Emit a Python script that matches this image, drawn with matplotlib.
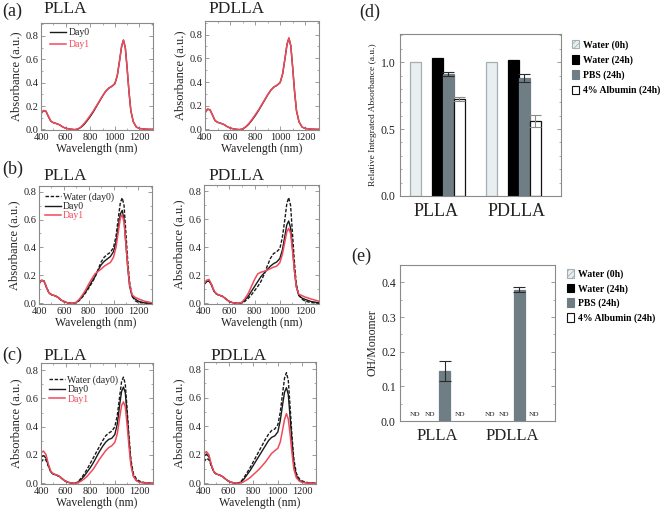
import numpy as np
import matplotlib
matplotlib.use('Agg')
import matplotlib.pyplot as plt
from matplotlib.patches import Patch
from matplotlib.ticker import MultipleLocator

plt.rcParams['font.family'] = ['Liberation Serif', 'DejaVu Serif']
plt.rcParams['hatch.linewidth'] = 0.6

# ---------------- data ----------------
wl = [400, 420, 440, 460, 480, 500, 525, 550, 575, 600, 625, 650, 675, 700, 725, 750, 775, 800,
      825, 850, 875, 900, 925, 950, 975, 1000, 1020, 1040, 1055, 1070, 1085, 1100, 1115, 1130,
      1150, 1175, 1200, 1250, 1310]

# (a) PLLA
a_plla_day0 = [0.135, 0.16, 0.155, 0.11, 0.07, 0.058, 0.05, 0.04, 0.022, 0.01, 0.005, 0.001, -0.002, 0.003, 0.018,
               0.042, 0.075, 0.11, 0.15, 0.195, 0.24, 0.285, 0.325, 0.352, 0.368, 0.39, 0.46, 0.6, 0.71, 0.762,
               0.7, 0.52, 0.32, 0.16, 0.065, 0.02, 0.008, 0.002, 0.0]
a_plla_day1 = [0.135, 0.162, 0.157, 0.112, 0.07, 0.058, 0.05, 0.04, 0.022, 0.01, 0.005, 0.001, -0.002, 0.004, 0.022,
               0.05, 0.083, 0.12, 0.158, 0.2, 0.244, 0.287, 0.326, 0.353, 0.369, 0.392, 0.462, 0.6, 0.71, 0.765,
               0.7, 0.52, 0.32, 0.16, 0.065, 0.02, 0.008, 0.002, 0.0]
# (a) PDLLA
a_pdlla_day0 = [0.14, 0.17, 0.165, 0.12, 0.075, 0.06, 0.052, 0.042, 0.025, 0.012, 0.005, 0.001, -0.002, 0.003, 0.02,
                0.045, 0.078, 0.115, 0.155, 0.2, 0.245, 0.29, 0.33, 0.358, 0.372, 0.395, 0.47, 0.61, 0.72, 0.77,
                0.705, 0.52, 0.32, 0.16, 0.065, 0.02, 0.008, 0.002, 0.0]
a_pdlla_day1 = [0.14, 0.172, 0.167, 0.121, 0.075, 0.06, 0.052, 0.042, 0.025, 0.012, 0.005, 0.001, -0.002, 0.004, 0.023,
                0.05, 0.084, 0.122, 0.16, 0.204, 0.248, 0.292, 0.331, 0.359, 0.373, 0.396, 0.47, 0.61, 0.72, 0.772,
                0.705, 0.52, 0.32, 0.16, 0.065, 0.02, 0.008, 0.002, 0.0]

# (b) PLLA
b_plla_water = [0.14, 0.165, 0.16, 0.115, 0.075, 0.062, 0.055, 0.045, 0.025, 0.012, 0.005, 0.001, 0.0, 0.005, 0.02,
                0.045, 0.075, 0.108, 0.145, 0.185, 0.24, 0.295, 0.33, 0.35, 0.365, 0.40, 0.48, 0.62, 0.72, 0.755,
                0.7, 0.5, 0.3, 0.15, 0.05, 0.018, 0.006, 0.002, 0.0]
b_plla_day0 = [0.14, 0.165, 0.16, 0.115, 0.075, 0.062, 0.055, 0.045, 0.025, 0.012, 0.005, 0.001, 0.0, 0.006, 0.025,
               0.05, 0.082, 0.118, 0.155, 0.19, 0.235, 0.275, 0.3, 0.318, 0.335, 0.37, 0.44, 0.56, 0.64, 0.665,
               0.6, 0.42, 0.25, 0.12, 0.05, 0.03, 0.015, 0.003, 0.0]
b_plla_day1 = [0.14, 0.165, 0.16, 0.115, 0.075, 0.062, 0.055, 0.045, 0.025, 0.012, 0.005, 0.001, 0.0, 0.008, 0.03,
               0.06, 0.095, 0.137, 0.175, 0.21, 0.228, 0.245, 0.265, 0.28, 0.292, 0.33, 0.40, 0.52, 0.61, 0.635,
               0.58, 0.42, 0.26, 0.13, 0.06, 0.042, 0.032, 0.015, 0.004]
# (b) PDLLA
b_pdlla_water = [0.135, 0.155, 0.16, 0.13, 0.085, 0.065, 0.057, 0.048, 0.03, 0.012, 0.005, 0.001, 0.0, 0.004, 0.015,
                 0.035, 0.06, 0.09, 0.12, 0.155, 0.205, 0.265, 0.32, 0.355, 0.368, 0.39, 0.47, 0.6, 0.71, 0.755,
                 0.7, 0.5, 0.3, 0.14, 0.06, 0.03, 0.015, 0.005, 0.0]
b_pdlla_day0 = [0.135, 0.155, 0.16, 0.13, 0.085, 0.065, 0.057, 0.048, 0.03, 0.012, 0.005, 0.001, 0.0, 0.006, 0.025,
                0.05, 0.085, 0.12, 0.155, 0.19, 0.215, 0.24, 0.265, 0.283, 0.295, 0.32, 0.38, 0.48, 0.56, 0.588,
                0.54, 0.40, 0.24, 0.12, 0.055, 0.038, 0.028, 0.012, 0.004]
b_pdlla_day1 = [0.14, 0.165, 0.17, 0.135, 0.088, 0.067, 0.058, 0.048, 0.03, 0.012, 0.005, 0.001, 0.0, 0.008, 0.035,
                0.07, 0.12, 0.17, 0.21, 0.222, 0.228, 0.236, 0.248, 0.258, 0.265, 0.29, 0.35, 0.44, 0.51, 0.535,
                0.5, 0.38, 0.24, 0.12, 0.065, 0.055, 0.045, 0.03, 0.015]

# (c) PLLA
c_plla_water = [0.15, 0.17, 0.165, 0.12, 0.08, 0.065, 0.058, 0.048, 0.03, 0.014, 0.006, 0.002, 0.0, 0.01, 0.035,
                0.065, 0.1, 0.14, 0.18, 0.22, 0.26, 0.3, 0.335, 0.355, 0.368, 0.40, 0.48, 0.62, 0.72, 0.75,
                0.7, 0.52, 0.33, 0.17, 0.07, 0.03, 0.015, 0.003, 0.0]
c_plla_day0 = [0.185, 0.195, 0.18, 0.125, 0.08, 0.065, 0.058, 0.048, 0.03, 0.014, 0.006, 0.002, 0.0, 0.007, 0.025,
               0.05, 0.08, 0.11, 0.145, 0.185, 0.225, 0.26, 0.29, 0.31, 0.318, 0.345, 0.42, 0.56, 0.65, 0.68,
               0.64, 0.48, 0.3, 0.15, 0.055, 0.02, 0.008, 0.002, 0.0]
c_plla_day1 = [0.215, 0.228, 0.205, 0.135, 0.085, 0.068, 0.06, 0.05, 0.03, 0.014, 0.006, 0.002, 0.0, 0.004, 0.015,
               0.03, 0.05, 0.075, 0.1, 0.135, 0.17, 0.2, 0.23, 0.252, 0.265, 0.29, 0.35, 0.47, 0.55, 0.575,
               0.54, 0.41, 0.26, 0.13, 0.05, 0.018, 0.007, 0.002, 0.0]
# (c) PDLLA
c_pdlla_water = [0.15, 0.175, 0.165, 0.12, 0.08, 0.065, 0.058, 0.048, 0.03, 0.014, 0.006, 0.002, 0.0, 0.012, 0.04,
                 0.075, 0.11, 0.15, 0.19, 0.23, 0.27, 0.31, 0.345, 0.37, 0.38, 0.41, 0.5, 0.64, 0.74, 0.775,
                 0.72, 0.53, 0.33, 0.17, 0.07, 0.03, 0.015, 0.003, 0.0]
c_pdlla_day0 = [0.19, 0.205, 0.185, 0.125, 0.08, 0.065, 0.058, 0.048, 0.03, 0.014, 0.006, 0.002, 0.0, 0.008, 0.03,
                0.06, 0.09, 0.125, 0.16, 0.195, 0.23, 0.265, 0.3, 0.322, 0.332, 0.36, 0.44, 0.56, 0.64, 0.67,
                0.62, 0.46, 0.29, 0.14, 0.055, 0.02, 0.008, 0.002, 0.0]
c_pdlla_day1 = [0.21, 0.222, 0.2, 0.13, 0.082, 0.066, 0.058, 0.048, 0.03, 0.014, 0.006, 0.002, 0.0, 0.003, 0.012,
                0.025, 0.04, 0.06, 0.08, 0.1, 0.125, 0.15, 0.18, 0.21, 0.228, 0.245, 0.29, 0.38, 0.45, 0.488,
                0.45, 0.34, 0.21, 0.1, 0.04, 0.015, 0.006, 0.001, 0.0]

# (d) relative integrated absorbance
conditions = ['Water (0h)', 'Water (24h)', 'PBS (24h)', '4% Albumin (24h)']
groups = ['PLLA', 'PDLLA']
rel_plla = [1.0, 1.03, 0.908, 0.725]
rel_plla_err = [0.0, 0.0, 0.015, 0.012]
rel_pdlla = [1.0, 1.013, 0.884, 0.558]
rel_pdlla_err = [0.0, 0.0, 0.03, 0.045]

# (e) OH/Monomer (nan = ND)
oh_plla = [np.nan, np.nan, 0.144, np.nan]
oh_plla_err = [0.0, 0.0, 0.03, 0.0]
oh_pdlla = [np.nan, np.nan, 0.379, np.nan]
oh_pdlla_err = [0.0, 0.0, 0.008, 0.0]

# ---------------- styling ----------------
W, H = 661, 512
fig = plt.figure(figsize=(W / 100, H / 100), dpi=100)

def rect(l, t, r, b):
    return [l / W, 1 - b / H, (r - l) / W, (b - t) / H]

SPINE = '#8a8a8a'
TXT = '#222222'
RED = '#f2495a'
BLK = '#1a1a1a'

st_water = dict(color=BLK, lw=1.0, ls=(0, (2.5, 1.2)), label='Water (day0)')
st_day0 = dict(color=BLK, lw=1.0, label='Day0')
st_day1 = dict(color=RED, lw=1.1, label='Day1')

def style_frame(ax):
    for s in ax.spines.values():
        s.set_color(SPINE)
        s.set_linewidth(0.8)
    ax.tick_params(which='both', direction='in', colors=SPINE, labelcolor=TXT)
    ax.tick_params(which='major', length=3, width=0.6)
    ax.tick_params(which='minor', length=1.6, width=0.5)

def spectra(box, curves, ylim, legend=None):
    ax = fig.add_axes(rect(*box))
    for y, st in curves:
        ax.plot(wl, y, **st)
    ax.set_xlim(400, 1310)
    ax.set_ylim(*ylim)
    ax.xaxis.set_major_locator(MultipleLocator(200))
    ax.xaxis.set_minor_locator(MultipleLocator(100))
    ax.yaxis.set_major_locator(MultipleLocator(0.2))
    ax.yaxis.set_minor_locator(MultipleLocator(0.1))
    style_frame(ax)
    ax.tick_params(which='both', top=True, right=True, labelsize=7.5, pad=2)
    ax.set_xlabel('Wavelength (nm)', fontsize=8.5, color=TXT, labelpad=1)
    ax.set_ylabel('Absorbance (a.u.)', fontsize=9, color=TXT, labelpad=2)
    if legend is not None:
        anchor, lspace = legend
        lg = ax.legend(loc='upper left', bbox_to_anchor=anchor, fontsize=7, frameon=False,
                       handlelength=1.7, handletextpad=0.2, labelspacing=lspace,
                       borderpad=0, borderaxespad=0)
        for t, h in zip(lg.get_texts(), lg.get_lines()):
            t.set_color(RED if h.get_color() == RED else TXT)
    return ax

spectra((41, 23, 153, 130), [(a_plla_day0, st_day0), (a_plla_day1, st_day1)], (-0.005, 0.91),
        legend=((0.08, 0.95), 0.3))
spectra((205, 21, 319, 130), [(a_pdlla_day0, st_day0), (a_pdlla_day1, st_day1)], (-0.005, 0.915))
spectra((39, 186, 152, 304), [(b_plla_water, st_water), (b_plla_day0, st_day0), (b_plla_day1, st_day1)],
        (-0.005, 0.84), legend=((0.05, 0.95), 0.05))
spectra((204, 185, 319, 304), [(b_pdlla_water, st_water), (b_pdlla_day0, st_day0), (b_pdlla_day1, st_day1)],
        (-0.005, 0.845))
spectra((41, 363, 153, 484), [(c_plla_water, st_water), (c_plla_day0, st_day0), (c_plla_day1, st_day1)],
        (-0.005, 0.85), legend=((0.07, 0.9), 0.05))
spectra((204, 362, 316, 484), [(c_pdlla_water, st_water), (c_pdlla_day0, st_day0), (c_pdlla_day1, st_day1)],
        (-0.005, 0.85))

# panel letters and titles
for txt, x, y in [('(a)', 2, 11), ('(b)', 2, 169), ('(c)', 2, 355), ('(d)', 359, 12), ('(e)', 351, 256)]:
    fig.text(x / W, 1 - y / H, txt, fontsize=13, va='center', ha='left', color=TXT)
for txt, x, y in [('PLLA', 43, 9), ('PDLLA', 208, 9), ('PLLA', 43, 176), ('PDLLA', 208, 176),
                  ('PLLA', 43, 356), ('PDLLA', 210, 356)]:
    fig.text(x / W, 1 - y / H, txt, fontsize=12.5, va='center', ha='left', color=TXT)

# bar styles
bar_face = ['#e9eef0', '#000000', '#6e7e84', '#ffffff']
bar_edge = ['#a4b0b4', '#000000', '#6e7e84', '#111111']
legend_hatch = ['//////', None, None, None]
err_col = ['#333333', '#333333', '#2a2a2a', '#8a8a8a']

def legend_handles():
    return [Patch(facecolor=bar_face[i], edgecolor=bar_edge[i], hatch=legend_hatch[i], lw=0.8)
            for i in range(4)]

def draw_bars(ax, pos, vals, errs, width):
    for i in range(4):
        v = vals[i]
        if np.isnan(v):
            continue
        ax.bar(pos[i], v, width=width, color=bar_face[i], edgecolor=bar_edge[i],
               linewidth=0.9, zorder=2)
        if errs[i] > 0:
            ax.errorbar(pos[i], v, yerr=errs[i], fmt='none', ecolor=err_col[i],
                        elinewidth=0.8, capsize=4, capthick=0.8, zorder=3)

# (d)
axd = fig.add_axes(rect(400, 34, 561, 196))
pos_d_plla = [0, 2, 3, 4]
pos_d_pdlla = [6.9, 8.9, 9.9, 10.9]
draw_bars(axd, pos_d_plla, rel_plla, rel_plla_err, 1.0)
draw_bars(axd, pos_d_pdlla, rel_pdlla, rel_pdlla_err, 1.0)
axd.set_xlim(-1.41, 13.23)
axd.set_ylim(0, 1.21)
axd.yaxis.set_major_locator(MultipleLocator(0.5))
axd.yaxis.set_minor_locator(MultipleLocator(0.1))
style_frame(axd)
axd.tick_params(axis='y', which='both', right=True, labelsize=8.5, pad=3)
axd.set_xticks([1.85, 9.15])
axd.set_xticklabels(groups, fontsize=13, color=TXT)
axd.tick_params(axis='x', length=0, pad=5)
axd.set_ylabel('Relative Integrated Absorbance (a.u.)', fontsize=6.8, color=TXT, labelpad=3)
axd.legend(legend_handles(), conditions, loc='upper left', bbox_to_anchor=(1.068, 0.965),
           frameon=False, handlelength=0.75, handleheight=1.0, handletextpad=0.4,
           labelspacing=0.55, borderpad=0, borderaxespad=0,
           prop=dict(size=7, weight='bold'))

# (e)
axe = fig.add_axes(rect(400, 265, 555, 421))
pos_e_plla = [0, 1, 2, 3]
pos_e_pdlla = [5, 6, 7, 8]
draw_bars(axe, pos_e_plla, oh_plla, oh_plla_err, 0.73)
draw_bars(axe, pos_e_pdlla, oh_pdlla, oh_pdlla_err, 0.73)
for pos, vals in [(pos_e_plla, oh_plla), (pos_e_pdlla, oh_pdlla)]:
    for p, v in zip(pos, vals):
        if np.isnan(v):
            axe.text(p, 0.02, 'ND', fontsize=5.2, ha='center', va='center', color=TXT)
axe.set_xlim(-0.97, 9.37)
axe.set_ylim(0, 0.45)
axe.yaxis.set_major_locator(MultipleLocator(0.1))
axe.yaxis.set_minor_locator(MultipleLocator(0.05))
style_frame(axe)
axe.tick_params(axis='y', which='both', right=True, labelsize=8.5, pad=3)
axe.set_xticks([1.5, 6.5])
axe.set_xticklabels(groups, fontsize=12, color=TXT)
axe.tick_params(axis='x', length=0, pad=5)
axe.set_ylabel('OH/Monomer', fontsize=8.5, color=TXT, labelpad=2)
axe.legend(legend_handles(), conditions, loc='upper left', bbox_to_anchor=(1.077, 0.975),
           frameon=False, handlelength=0.75, handleheight=1.0, handletextpad=0.4,
           labelspacing=0.5, borderpad=0, borderaxespad=0,
           prop=dict(size=7, weight='bold'))

fig.savefig('out.png', dpi=100)
